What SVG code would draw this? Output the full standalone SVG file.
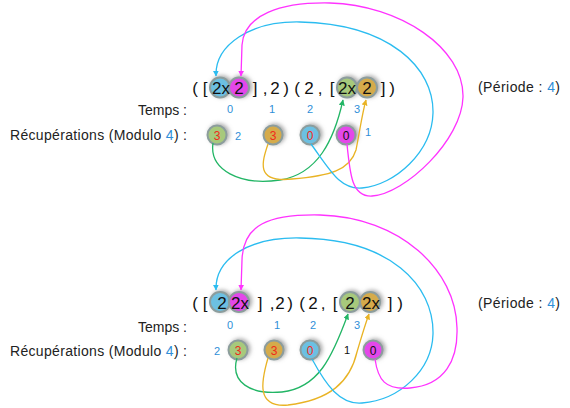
<svg xmlns="http://www.w3.org/2000/svg" width="570" height="408" viewBox="0 0 570 408">
<style>
.lbl{font-family:"Liberation Sans",Arial,sans-serif;font-size:14px;fill:#222}
.seq{font-family:"Liberation Sans",Arial,sans-serif;font-size:17px;fill:#111;text-anchor:middle}
.num{font-family:"Liberation Sans",Arial,sans-serif;font-size:11px;fill:#2f8fd8;text-anchor:middle}
.ct{font-family:"Liberation Sans",Arial,sans-serif;font-size:12px;fill:#f02a1a;text-anchor:middle}
.blu{fill:#2f8fd8}
.c{stroke:#8c9d9d;stroke-width:2;filter:url(#sh)}
.cb{fill:#6cc0e2}.cm{fill:#e446ea}.cg{fill:#a7c97c}.co{fill:#d5ab4c}
.w{fill:none;stroke-width:1.3}
.g{stroke:#22b565}.o{stroke:#e9b324}.b{stroke:#2bbcf0}.m{stroke:#ff33ff}
</style>
<defs>
<filter id="sh" x="-50%" y="-50%" width="200%" height="200%">
<feGaussianBlur in="SourceAlpha" stdDeviation="2.2"/>
<feOffset dx="1.5" dy="-1.5" result="o"/>
<feFlood flood-color="#808080" flood-opacity="0.7"/>
<feComposite in2="o" operator="in"/>
<feMerge><feMergeNode/><feMergeNode in="SourceGraphic"/></feMerge>
</filter>
<marker id="ag" viewBox="0 0 10 10" refX="9" refY="5" markerWidth="6" markerHeight="6" markerUnits="userSpaceOnUse" orient="auto"><path d="M0,0L10,5L0,10z" fill="#22b565"/></marker>
<marker id="ao" viewBox="0 0 10 10" refX="9" refY="5" markerWidth="6" markerHeight="6" markerUnits="userSpaceOnUse" orient="auto"><path d="M0,0L10,5L0,10z" fill="#e9b324"/></marker>
<marker id="ab" viewBox="0 0 10 10" refX="9" refY="5" markerWidth="6" markerHeight="6" markerUnits="userSpaceOnUse" orient="auto"><path d="M0,0L10,5L0,10z" fill="#2bbcf0"/></marker>
<marker id="am" viewBox="0 0 10 10" refX="9" refY="5" markerWidth="6" markerHeight="6" markerUnits="userSpaceOnUse" orient="auto"><path d="M0,0L10,5L0,10z" fill="#ff33ff"/></marker>
</defs>

<!-- ===== TOP ===== -->
<g id="top-seq">
<text class="seq" x="195" y="93.5">(</text>
<text class="seq" x="205" y="93.5">[</text>
<circle class="c cb" cx="220" cy="87.5" r="10"/>
<circle class="c cm" cx="239" cy="87.5" r="10"/>
<text class="seq" x="221" y="93.5">2x</text>
<text class="seq" x="239" y="93.5">2</text>
<text class="seq" x="255" y="93.5">]</text>
<text class="seq" x="265" y="93.5">,</text>
<text class="seq" x="275" y="93.5">2</text>
<text class="seq" x="286" y="93.5">)</text>
<text class="seq" x="297" y="93.5">(</text>
<text class="seq" x="309" y="93.5">2</text>
<text class="seq" x="320" y="93.5">,</text>
<text class="seq" x="332" y="93.5">[</text>
<circle class="c cg" cx="347" cy="87.5" r="10"/>
<circle class="c co" cx="367" cy="87.5" r="10"/>
<text class="seq" x="347" y="93.5">2x</text>
<text class="seq" x="367" y="93.5">2</text>
<text class="seq" x="383" y="93.5">]</text>
<text class="seq" x="392" y="93.5">)</text>
</g>
<g id="top-period"><text class="lbl" x="478" y="92" textLength="82" lengthAdjust="spacing">(Période : <tspan class="blu">4</tspan>)</text></g>
<g id="top-temps">
<text class="lbl" x="187" y="115" text-anchor="end">Temps :</text>
<text class="num" x="230" y="113">0</text>
<text class="num" x="272" y="113">1</text>
<text class="num" x="310" y="113">2</text>
<text class="num" x="357" y="113">3</text>
</g>
<g id="top-recup">
<text class="lbl" x="10" y="140" textLength="177" lengthAdjust="spacing">Récupérations (Modulo <tspan class="blu">4</tspan>) :</text>
<circle class="c cg" cx="217" cy="135" r="9.5"/><text class="ct" x="217" y="139.5">3</text>
<text class="num" x="238" y="140" font-size="12">2</text>
<circle class="c co" cx="273" cy="135" r="9.5"/><text class="ct" x="273" y="139.5">3</text>
<circle class="c cb" cx="310" cy="135" r="9.5"/><text class="ct" x="310" y="139.5">0</text>
<circle class="c cm" cx="346" cy="135" r="9.5"/><text class="ct" x="346" y="139.5" style="fill:#111">0</text>
<text class="num" x="368" y="136" font-size="12">1</text>
</g>

<!-- ===== BOTTOM ===== -->
<g id="bot-seq">
<text class="seq" x="195" y="309">(</text>
<text class="seq" x="205" y="309">[</text>
<circle class="c cb" cx="220" cy="302" r="10"/>
<circle class="c cm" cx="239" cy="302" r="10"/>
<text class="seq" x="222" y="309">2</text>
<text class="seq" x="240" y="309">2x</text>
<text class="seq" x="260" y="309">]</text>
<text class="seq" x="272" y="309">,</text>
<text class="seq" x="280" y="309">2</text>
<text class="seq" x="290" y="309">)</text>
<text class="seq" x="302" y="309">(</text>
<text class="seq" x="313" y="309">2</text>
<text class="seq" x="323" y="309">,</text>
<text class="seq" x="335" y="309">[</text>
<circle class="c cg" cx="350" cy="302" r="10"/>
<circle class="c co" cx="370" cy="302" r="10"/>
<text class="seq" x="350" y="309">2</text>
<text class="seq" x="371" y="309">2x</text>
<text class="seq" x="390" y="309">]</text>
<text class="seq" x="400" y="309">)</text>
</g>
<g id="bot-period"><text class="lbl" x="478" y="308" textLength="82" lengthAdjust="spacing">(Période : <tspan class="blu">4</tspan>)</text></g>
<g id="bot-temps">
<text class="lbl" x="187" y="332" text-anchor="end">Temps :</text>
<text class="num" x="230" y="329">0</text>
<text class="num" x="277" y="329">1</text>
<text class="num" x="313" y="329">2</text>
<text class="num" x="357" y="329">3</text>
</g>
<g id="bot-recup">
<text class="lbl" x="10" y="356" textLength="177" lengthAdjust="spacing">Récupérations (Modulo <tspan class="blu">4</tspan>) :</text>
<text class="num" x="217" y="355" font-size="12">2</text>
<circle class="c cg" cx="238" cy="350" r="9.5"/><text class="ct" x="238" y="354.5">3</text>
<circle class="c co" cx="274" cy="350" r="9.5"/><text class="ct" x="274" y="354.5">3</text>
<circle class="c cb" cx="310" cy="350" r="9.5"/><text class="ct" x="310" y="354.5">0</text>
<text class="num" x="347" y="354" font-size="12" style="fill:#111">1</text>
<circle class="c cm" cx="373" cy="350" r="9.5"/><text class="ct" x="373" y="354.5" style="fill:#111">0</text>
</g>

<g id="connectors">
<path class="w g" marker-end="url(#ag)" d="M213,143 C209,170 240,186 280,180 C318,174 334,140 343,100"/>
<path class="w o" marker-end="url(#ao)" d="M268,144 C262,162 255,183 292,179 C330,176 350,170 356,150 C360,130 362,114 366,100"/>
<path class="w b" marker-end="url(#ab)" d="M311,144 C330,170 340,190 362,188 C395,185 432,152 433,113 C434,68 390,24 300,22 C250,21 215,45 216,76"/>
<path class="w m" marker-end="url(#am)" d="M347,144 C350,175 352,197 372,196 C405,194 462,140 463,97 C464,48 400,5 330,3 C280,2 244,15 242,45 L241,76"/>

<path class="w g" marker-end="url(#ag)" d="M237,358 C230,382 250,395 282,392 C318,388 332,358 348,314"/>
<path class="w o" marker-end="url(#ao)" d="M268,358 C261,382 256,408 288,405 C330,400 350,382 357,352 C362,335 365,325 369,314"/>
<path class="w b" marker-end="url(#ab)" d="M312,359 C326,385 340,405 362,403 C400,400 432,370 433,334 C434,285 390,239 300,238 C250,237 215,258 216,290"/>
<path class="w m" marker-end="url(#am)" d="M375,359 C378,380 385,390 410,388 C445,385 458,360 457,328 C456,270 400,217 320,215 C268,214 243,225 242,260 L241,290"/>
</g>
</svg>
